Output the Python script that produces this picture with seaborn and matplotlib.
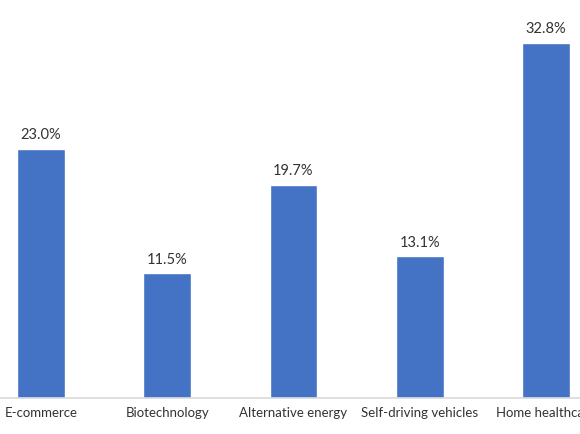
import matplotlib
matplotlib.use("Agg")
import matplotlib.pyplot as plt
import seaborn as sns
import pandas as pd

# Chart data
categories = ["E-commerce", "Biotechnology", "Alternative energy",
              "Self-driving vehicles", "Home healthcare"]
values = [23.0, 11.5, 19.7, 13.1, 32.8]
value_labels = ["23.0%", "11.5%", "19.7%", "13.1%", "32.8%"]

sns.set_style("white")
plt.rcParams['font.family'] = ['Lato', 'DejaVu Sans']

df = pd.DataFrame({"category": categories, "value": values})

fig = plt.figure(figsize=(5.8, 4.35), dpi=100)
# the reference is a crop, so the axes run past both figure edges
ax = fig.add_axes([-22 / 580, 36 / 435, 631 / 580, 379 / 435])

sns.barplot(data=df, x="category", y="value", color="#4472C4",
            width=0.38, saturation=1, ax=ax)

for i, (v, lab) in enumerate(zip(values, value_labels)):
    ax.text(i, v + 0.7, lab, ha="center", va="bottom",
            fontsize=10.5, color="#333333")

ax.set_xlim(-0.5, 4.5)
ax.set_ylim(0, 35)
ax.set_xlabel("")
ax.set_ylabel("")
ax.set_yticks([])
ax.tick_params(axis="x", length=0, pad=6, labelsize=9.5, labelcolor="#333333")
for side in ["left", "right", "top"]:
    ax.spines[side].set_visible(False)
ax.spines["bottom"].set_color("#D9D9D9")
ax.spines["bottom"].set_linewidth(1.2)

fig.savefig("out.png", dpi=100)
